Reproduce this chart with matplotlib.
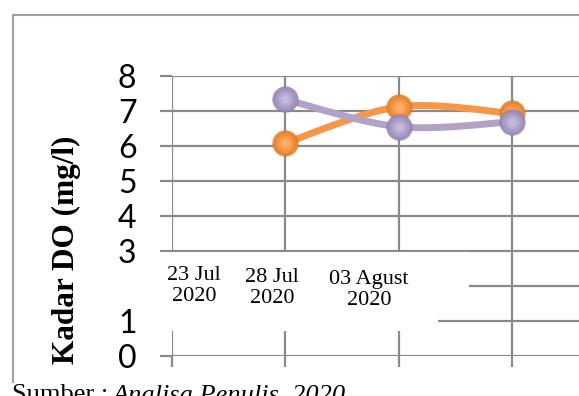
import numpy as np
import matplotlib.pyplot as plt
from matplotlib.path import Path
from matplotlib.patches import PathPatch, Rectangle

# ---- data ----
x_pos = [1, 2, 3]
do_orange = [6.08, 7.12, 6.93]
do_purple = [7.33, 6.55, 6.69]
y_ticks = [0, 1, 2, 3, 4, 5, 6, 7, 8]
date_labels = ["23 Jul\n2020", "28 Jul\n2020", "03 Agust\n2020"]
date_label_x = [194, 272, 369]
date_label_y = [266, 268, 270]

W, H = 579, 396
GRID = "#8a8a8a"
ORANGE = "#F79646"
PURPLE = "#B3A2C7"
# sphere-like shading: outer (dark) -> inner (light)
ORANGE_SHADES = ["#D9782A", "#E8852F", "#F2913A", "#F7A052", "#F9B06C"]
PURPLE_SHADES = ["#8B7BAA", "#9D8EBC", "#A99BC6", "#B6AAD1", "#C4B9DA"]


def px(x, y):
    # pixel position (from top-left) -> figure fraction
    return x / W, 1 - y / H


def smooth_path(xs, ys, t=1/6):
    """Excel-like smoothed line as cubic bezier segments through the points."""
    pts = np.column_stack([xs, ys]).astype(float)
    verts = [pts[0]]
    codes = [Path.MOVETO]
    n = len(pts)
    for i in range(n - 1):
        p0 = pts[max(i - 1, 0)]
        p1 = pts[i]
        p2 = pts[i + 1]
        p3 = pts[min(i + 2, n - 1)]
        c1 = p1 + (p2 - p0) * t
        c2 = p2 - (p3 - p1) * t
        verts += [c1, c2, p2]
        codes += [Path.CURVE4] * 3
    return Path(verts, codes)


fig = plt.figure(figsize=(W / 100, H / 100), dpi=100)
left, bottom = px(172, 356)
_, top = px(0, 76)
ax = fig.add_axes([left, bottom, 4.5 * 113.3 / W, top - bottom])

ax.set_xlim(0, 4.5)
ax.set_ylim(0, 8)
ax.set_xticks([0, 1, 2, 3, 4])
ax.set_xticklabels([])
ax.set_yticks(y_ticks)
ax.set_yticklabels([str(v) for v in y_ticks], fontfamily="Lato", fontsize=23)
ax.tick_params(axis="y", length=8.6, width=1.6, color=GRID, pad=17)
ax.tick_params(axis="x", length=8, width=1.6, color=GRID)
ax.grid(True, color=GRID, linewidth=1.6)
ax.set_axisbelow(True)
for s in ax.spines.values():
    s.set_visible(False)

for ys, col, shades, z in [(do_orange, ORANGE, ORANGE_SHADES, 3),
                           (do_purple, PURPLE, PURPLE_SHADES, 4)]:
    ax.add_patch(PathPatch(smooth_path(x_pos, ys), facecolor="none", edgecolor=col,
                           linewidth=5, capstyle="round", zorder=z))
    for k, (shade, ms) in enumerate(zip(shades, [19, 17, 14, 10, 6])):
        ax.plot(x_pos, ys, linestyle="none", marker="o", markersize=ms,
                markerfacecolor=shade, markeredgecolor="none",
                alpha=0.75 if k == 0 else 1.0, zorder=z + 0.1 * (k + 1))

# outer chart border
fig.patches.append(Rectangle(px(13, 420), 700 / W, (420 - 15) / H, transform=fig.transFigure,
                             fill=False, edgecolor="#a0a0a0", linewidth=1.5, zorder=1))

# white label boxes pasted over the plot and the source line
for x0, y0, x1, y1 in [(145, 252, 469, 300), (140, 300, 438, 331), (105, 274, 145, 300),
                       (0, 383, 360, 400)]:
    fig.patches.append(Rectangle(px(x0, y1), (x1 - x0) / W, (y1 - y0) / H,
                                 transform=fig.transFigure, facecolor="white",
                                 edgecolor="none", zorder=5))

for lab, lx, ly in zip(date_labels, date_label_x, date_label_y):
    fig.text(*px(lx, ly), lab, ha="center", va="top", family="Liberation Serif",
             fontsize=16, linespacing=1.15, zorder=6)

fig.text(*px(66, 250), "Kadar DO (mg/l)", rotation=90, ha="center", va="center",
         family="Liberation Serif", fontweight="bold", fontsize=22.5, zorder=6)

fig.text(*px(12, 401), "Sumber : ", ha="left", va="baseline",
         family="Liberation Serif", fontsize=19, zorder=6)
fig.text(*px(112, 401), "Analisa Penulis, 2020", ha="left", va="baseline",
         family="Liberation Serif", style="italic", fontsize=19, zorder=6)

fig.savefig("out.png", dpi=100)
